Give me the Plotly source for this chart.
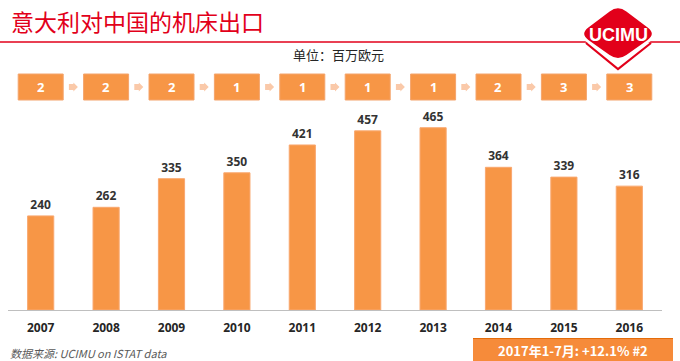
import plotly.graph_objects as go

years = ["2007", "2008", "2009", "2010", "2011", "2012", "2013", "2014", "2015", "2016"]
exports = [240, 262, 335, 350, 421, 457, 465, 364, 339, 316]
ranks = ["2", "2", "2", "1", "1", "1", "1", "2", "3", "3"]

title_text = "意大利对中国的机床出口"
unit_text = "单位：百万欧元"
source_text = "数据来源: UCIMU on ISTAT data"
note_text = "2017年1-7月: +12.1% #2"

W, H = 680, 361
RED = "#E2001A"
ORANGE = "#F79646"


def px(x):
    return x / W


def py(y):
    return 1 - y / H


PLOT_L, PLOT_R, PLOT_B, PLOT_T = 8, 662, 310, 110
n = len(years)


def cx(i):
    return PLOT_L + (PLOT_R - PLOT_L) * (i + 0.5) / n


fig = go.Figure()
fig.add_trace(go.Bar(
    x=years, y=exports,
    marker=dict(color=ORANGE, line=dict(color="#F9A870", width=1)),
    text=[str(v) for v in exports], textposition="outside",
    textfont=dict(family="Open Sans", size=12, color="#333333", weight="bold"),
    cliponaxis=False, hoverinfo="skip",
))

shapes = []
annotations = []

# title + red rule
annotations.append(dict(x=px(9), y=py(21), xref="paper", yref="paper", xanchor="left", yanchor="middle",
                        text=title_text, showarrow=False,
                        font=dict(family="Noto Sans CJK SC", size=23, color=RED)))
shapes.append(dict(type="line", xref="paper", yref="paper", x0=0, x1=1, y0=py(42), y1=py(42),
                   line=dict(color=RED, width=1.5)))

# logo
def path(points, close=True):
    s = "M " + " L ".join(f"{px(x):.5f},{py(y):.5f}" for x, y in points)
    return s + (" Z" if close else "")

shapes.append(dict(type="path", xref="paper", yref="paper",
                   path=path([(584, 40), (652, 40), (618, 67)]),
                   fillcolor="white", line=dict(width=0)))
shapes.append(dict(type="path", xref="paper", yref="paper",
                   path=path([(586, 43), (618, 69), (651, 43)], close=False),
                   line=dict(color=RED, width=2.2)))

def rounded_diamond(top, right, bottom, left, r=0.22):
    pts = [top, right, bottom, left]
    segs = []
    for k in range(4):
        p0 = pts[k - 1]
        p1 = pts[k]
        p2 = pts[(k + 1) % 4]
        a = (p1[0] + (p0[0] - p1[0]) * r, p1[1] + (p0[1] - p1[1]) * r)
        b = (p1[0] + (p2[0] - p1[0]) * r, p1[1] + (p2[1] - p1[1]) * r)
        segs.append((a, p1, b))
    s = f"M {px(segs[0][0][0]):.5f},{py(segs[0][0][1]):.5f} "
    for a, c, b in segs:
        s += f"L {px(a[0]):.5f},{py(a[1]):.5f} Q {px(c[0]):.5f},{py(c[1]):.5f} {px(b[0]):.5f},{py(b[1]):.5f} "
    return s + "Z"

shapes.append(dict(type="path", xref="paper", yref="paper",
                   path=rounded_diamond((618, 5), (656, 34), (618, 61), (580, 34)),
                   fillcolor=RED, line=dict(width=0)))
annotations.append(dict(x=px(618), y=py(35), xref="paper", yref="paper", xanchor="center", yanchor="middle",
                        text="UCIMU", showarrow=False,
                        font=dict(family="Liberation Sans", size=18, color="white", weight="bold")))

# unit label
annotations.append(dict(x=px(338), y=py(55), xref="paper", yref="paper", xanchor="center", yanchor="middle",
                        text=unit_text, showarrow=False,
                        font=dict(family="Noto Sans CJK SC", size=13, color="#262626")))

# rank boxes and arrows
for i, r in enumerate(ranks):
    c = cx(i)
    shapes.append(dict(type="rect", xref="paper", yref="paper",
                       x0=px(c - 22.5), x1=px(c + 22.5), y0=py(100), y1=py(74),
                       fillcolor=ORANGE, line=dict(color="#F4A46C", width=1)))
    annotations.append(dict(x=px(c), y=py(87), xref="paper", yref="paper", xanchor="center", yanchor="middle",
                            text=r, showarrow=False,
                            font=dict(family="Open Sans", size=13, color="white", weight="bold")))
    if i < n - 1:
        m = (cx(i) + cx(i + 1)) / 2
        shapes.append(dict(type="path", xref="paper", yref="paper",
                           path=path([(m - 4.5, 84), (m, 84), (m, 82.5), (m + 4.5, 87), (m, 91.5), (m, 90), (m - 4.5, 90)]),
                           fillcolor="#FAC9A9", line=dict(width=0)))

# footer
annotations.append(dict(x=px(8), y=py(353), xref="paper", yref="paper", xanchor="left", yanchor="middle",
                        text=f"<i>{source_text}</i>", showarrow=False,
                        font=dict(family="Noto Sans CJK SC", size=11, color="#595959")))
shapes.append(dict(type="rect", xref="paper", yref="paper",
                   x0=px(473), x1=px(673), y0=0, y1=py(338),
                   fillcolor="#F68B3A", line=dict(width=0)))
shapes.append(dict(type="line", xref="paper", yref="paper",
                   x0=px(473), x1=px(673), y0=py(338.5), y1=py(338.5),
                   line=dict(color="#E46C0A", width=1)))
annotations.append(dict(x=px(573), y=py(350), xref="paper", yref="paper", xanchor="center", yanchor="middle",
                        text=note_text, showarrow=False,
                        font=dict(family="Noto Sans CJK SC", size=13, color="white", weight="bold")))

fig.update_layout(
    width=W, height=H, margin=dict(l=0, r=0, t=0, b=0),
    paper_bgcolor="white", plot_bgcolor="white",
    showlegend=False, bargap=0.6,
    xaxis=dict(domain=[px(PLOT_L), px(PLOT_R)], showline=True, linecolor="#BFBFBF", linewidth=1,
               showgrid=False, ticks="outside", ticklen=7, tickcolor="rgba(0,0,0,0)",
               tickfont=dict(family="Open Sans", size=12, color="#262626", weight="bold"),
               fixedrange=True),
    yaxis=dict(domain=[py(PLOT_B), py(PLOT_T)], range=[0, (PLOT_B - PLOT_T) / 0.392],
               visible=False, showgrid=False, fixedrange=True),
    shapes=shapes, annotations=annotations,
)

fig.write_html("out.html", config={"displayModeBar": False},
               post_script="document.body.style.margin='0';document.body.style.overflow='hidden';")
